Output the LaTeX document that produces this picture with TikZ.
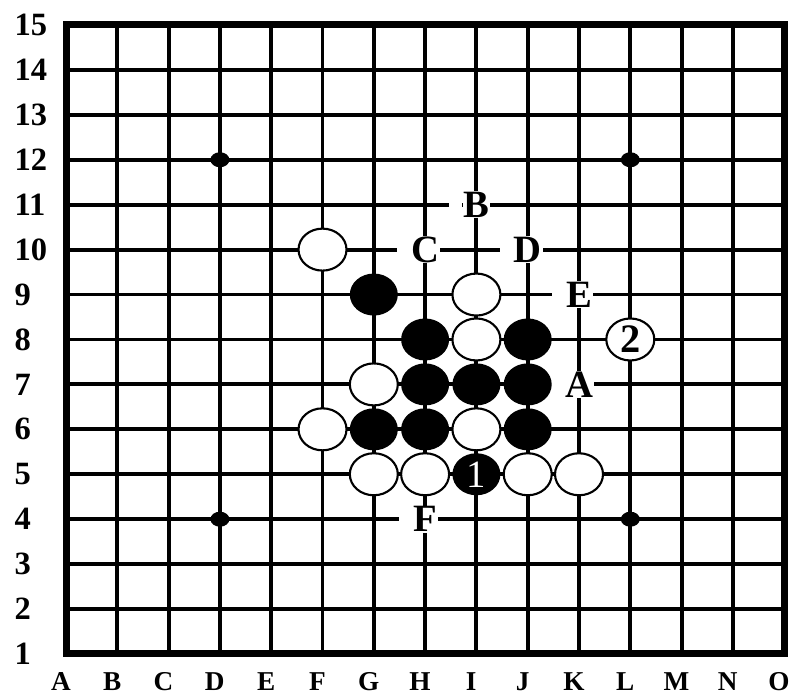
\documentclass[tikz,border=0pt]{standalone}
\usepackage{fontspec}
\setmainfont{Liberation Serif}
\usetikzlibrary{shapes.geometric}

\tikzset{
  stone/.style={ellipse,minimum width=0.96cm,minimum height=0.84cm,inner sep=0pt},
  wstone/.style={stone,fill=white,draw=black,line width=1.2pt},
  bstone/.style={stone,fill=black},
  ptlabel/.style={fill=white,inner sep=0.5pt,font=\fontsize{22}{22}\selectfont\bfseries},
  rowlabel/.style={anchor=west,inner sep=0pt,font=\fontsize{18.5}{18.5}\selectfont\bfseries},
  collabel/.style={inner sep=0pt,font=\fontsize{15.5}{15.5}\selectfont\bfseries},
}

\begin{document}
\begin{tikzpicture}[x=1.026cm,y=0.8986cm]
\useasboundingbox (-1.287,-0.935) rectangle (14.152,14.556);
% board
\foreach \i in {1,...,13}{
  \draw[line width=2.2pt] (\i,0) -- (\i,14);
  \draw[line width=2.2pt] (0,\i) -- (14,\i);
}
\draw[line width=4pt] (0,0) rectangle (14,14);
\foreach \c/\r in {3/3,11/3,3/11,11/11}
  \fill (\c,\r) ellipse [x radius=0.19cm,y radius=0.15cm];
% coordinates
\foreach \n in {1,...,15}
  \node[rowlabel] (row\n) at (-1.01,\n-1) {\n};
\foreach \l [count=\i from 0] in {A,...,O}
  \node[collabel] (col\l) at (\i-0.1,-0.62) {\l};
% marked points
\foreach \l/\c/\r in {A/10/6,B/8/10,C/7/9,D/9/9,E/10/8,F/7/3}{
  \node[ptlabel] (pt\l) at (\c,\r) {\l};
  \fill[white] ([xshift=-0.26cm]pt\l.south west) rectangle (pt\l.north west);
}
% stones
\foreach \p/\c/\r in {F10/5/9,I9/8/8,I8/8/7,G7/6/6,F6/5/5,I6/8/5,G5/6/4,H5/7/4,J5/9/4,K5/10/4}
  \node[wstone] (w\p) at (\c,\r) {};
\foreach \p/\c/\r in {G9/6/8,H8/7/7,J8/9/7,H7/7/6,I7/8/6,J7/9/6,G6/6/5,H6/7/5,J6/9/5}
  \node[bstone] (b\p) at (\c,\r) {};
\node[bstone,text=white,font=\fontsize{22}{22}\selectfont] (bI5) at (8,4) {1};
\node[wstone,font=\fontsize{23}{23}\selectfont\bfseries] (wL8) at (11,7) {2};
\end{tikzpicture}
\end{document}
